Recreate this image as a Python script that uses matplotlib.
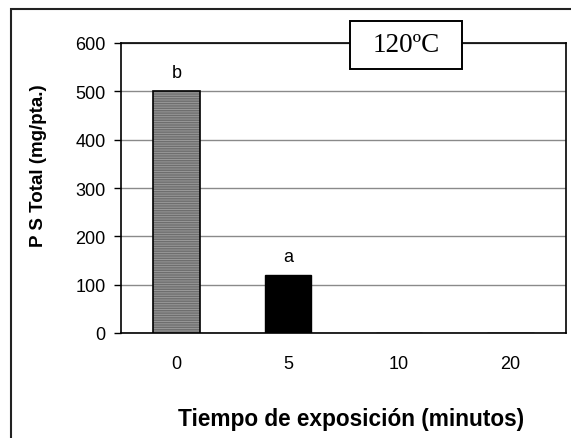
import matplotlib
matplotlib.use("Agg")
import matplotlib.pyplot as plt
from matplotlib.patches import Rectangle

categories = ["0", "5", "10", "20"]
values = [500, 120, 0, 0]
letters = ["b", "a", "", ""]
yticks = [0, 100, 200, 300, 400, 500, 600]
title_box = "120ºC"

plt.rcParams['font.family'] = ['Liberation Sans', 'DejaVu Sans']

W, H = 571, 439
fig = plt.figure(figsize=(W/100, H/100), dpi=100)
ax = fig.add_axes([121/W, 1-334/H, (566-121)/W, (334-44)/H])

x = list(range(len(categories)))
ax.bar(x[0], values[0], width=0.42, color='#9a9a9a', edgecolor='#6e6e6e',
       hatch='-------', linewidth=0, zorder=3)
ax.bar(x[1:], values[1:], width=0.42, color='black', edgecolor='black', linewidth=1, zorder=3)
ax.bar(x[0], values[0], width=0.42, fill=False, edgecolor='black', linewidth=1.2, zorder=4)

for xi, v, l in zip(x, values, letters):
    if l:
        ax.text(xi, v + 30, l, ha='center', va='baseline', fontsize=13)

ax.set_xlim(-0.5, len(categories) - 0.5)
ax.set_ylim(0, 600)
ax.set_yticks(yticks)
ax.set_xticks(x)
ax.set_xticklabels(categories)
ax.tick_params(axis='x', length=0, pad=16, labelsize=13)
ax.tick_params(axis='y', direction='out', length=5, width=1, labelsize=13, pad=6)
ax.yaxis.grid(True, color='#8a8a8a', linewidth=1)
ax.set_axisbelow(True)
for s in ax.spines.values():
    s.set_linewidth(1.2)
    s.set_color('black')

ax.set_xlabel("Tiempo de exposición (minutos)", fontsize=16.3, fontweight='bold', va='center')
ax.xaxis.set_label_coords((351-121)/445, (334-420)/290)
ax.set_ylabel("P S Total (mg/pta.)", fontsize=13.5, fontweight='bold', va='center')
ax.yaxis.set_label_coords((39-121)/445, (334-166)/290)

# title box
fig.patches.append(Rectangle((350/W, 1-70/H), 112/W, 48/H, transform=fig.transFigure,
                             facecolor='white', edgecolor='black', linewidth=1.4, zorder=10))
fig.text(406/W, 1-46/H, title_box, ha='center', va='center', fontsize=19.5,
         family=['Liberation Serif'], zorder=11)

# outer frame
fig.patches.append(Rectangle((11/W, -0.1), 1.1, 1 - 10/H + 0.1, transform=fig.transFigure,
                             fill=False, edgecolor='#222222', linewidth=1.5, zorder=0))

fig.savefig("out.png", dpi=100)
